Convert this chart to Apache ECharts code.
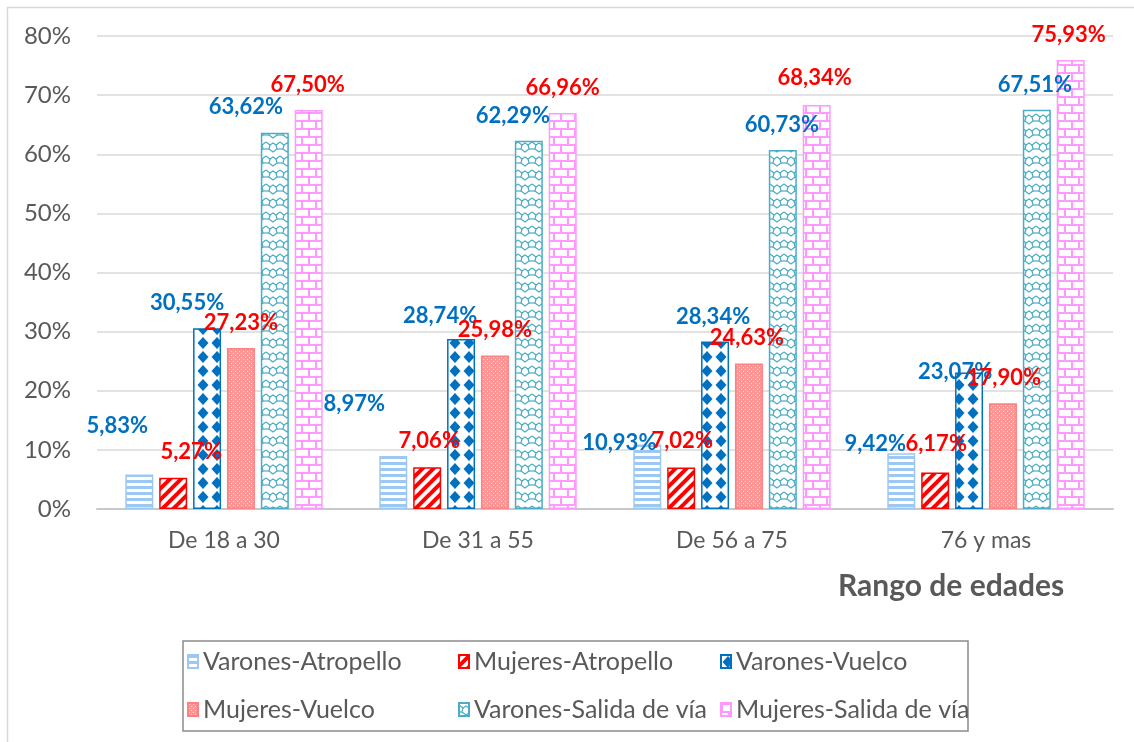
<!DOCTYPE html>
<html>
<head>
<meta charset="utf-8">
<script src="https://cdn.jsdelivr.net/npm/echarts@6/dist/echarts.min.js"></script>
<style>
html,body{margin:0;padding:0;background:#fff;}
#c{width:1134px;height:742px;}
</style>
</head>
<body>
<div id="c"></div>
<script>
// ---- DATA ----
const categories = ['De 18 a 30', 'De 31 a 55', 'De 56 a 75', '76 y mas'];
const seriesNames = ['Varones-Atropello', 'Mujeres-Atropello', 'Varones-Vuelco', 'Mujeres-Vuelco', 'Varones-Salida de vía', 'Mujeres-Salida de vía'];
const varonesAtropello = [5.83, 8.97, 10.93, 9.42];
const mujeresAtropello = [5.27, 7.06, 7.02, 6.17];
const varonesVuelco = [30.55, 28.74, 28.34, 23.07];
const mujeresVuelco = [27.23, 25.98, 24.63, 17.90];
const varonesSalida = [63.62, 62.29, 60.73, 67.51];
const mujeresSalida = [67.50, 66.96, 68.34, 75.93];
const yTicks = [0, 10, 20, 30, 40, 50, 60, 70, 80];
const axisTitle = 'Rango de edades';

// ---- LAYOUT (label nudges, px) ----
const labelOffsets = [
  [[-22,-33],[-39,-36],[-28,15],[-26,7]],
  [[18,-10],[2,-10],[1,-11],[1,-13]],
  [[-20,-9],[-21,-7],[-2,-9],[-14,15]],
  [[0,-9],[0,-9],[-2,-9],[1,-9]],
  [[-29,-10],[-16,-9],[-1,-9],[-2,-9]],
  [[-1,-9],[0,-9],[-2,-11],[-2,-9]]
];

const FONT = 'Lato';
const GREY = '#595959';

function tile(w, h, draw) {
  const c = document.createElement('canvas');
  c.width = w; c.height = h;
  const g = c.getContext('2d');
  g.fillStyle = '#fff'; g.fillRect(0, 0, w, h);
  draw(g, w, h);
  return { image: c, repeat: 'repeat' };
}
const C1 = '#9DC8F3', C2 = '#FF0000', C3 = '#0070C0', C4 = '#FF8080', C5 = '#4BACC6', C6 = '#FF99FF';
const patterns = [
  tile(8, 6, (g) => { g.fillStyle = C1; g.fillRect(0, 0, 8, 3); }),
  tile(11, 11, (g, w, h) => {
    g.strokeStyle = C2; g.lineWidth = 4;
    for (let k = -1; k <= 1; k++) {
      g.beginPath(); g.moveTo(k * w - 2, h + 2); g.lineTo(k * w + w + 2, -2); g.stroke();
    }
  }),
  tile(14, 14, (g) => {
    g.fillStyle = C3;
    g.beginPath(); g.moveTo(7, 1); g.lineTo(12.5, 7); g.lineTo(7, 13); g.lineTo(1.5, 7); g.closePath(); g.fill();
  }),
  tile(4, 4, (g) => {
    g.fillStyle = '#FF9494'; g.fillRect(0, 0, 4, 4);
    g.fillStyle = '#FFD6D6'; g.fillRect(1, 1, 1, 1); g.fillRect(3, 3, 1, 1);
  }),
  tile(14, 14, (g) => {
    g.strokeStyle = C5; g.lineWidth = 1.2;
    g.beginPath();
    g.moveTo(0, 2); g.lineTo(4, 5); g.lineTo(7, 3); g.lineTo(10, 5); g.lineTo(14, 2);
    g.stroke();
    g.beginPath();
    g.moveTo(4, 5); g.lineTo(3, 9); g.lineTo(7, 12); g.lineTo(11, 9); g.lineTo(10, 5);
    g.stroke();
    g.beginPath(); g.moveTo(0, 9); g.lineTo(3, 9); g.stroke();
    g.beginPath(); g.moveTo(11, 9); g.lineTo(14, 9); g.stroke();
  }),
  tile(14, 16, (g) => {
    g.fillStyle = C6;
    g.fillRect(0, 0, 14, 2); g.fillRect(0, 8, 14, 2);
    g.fillRect(0, 0, 2, 8); g.fillRect(7, 8, 2, 8);
  })
];
const borders = [C1, C2, C3, C4, C5, C6];
const labelColors = ['#0070C0', '#FF0000', '#0070C0', '#FF0000', '#0070C0', '#FF0000'];
const allValues = [varonesAtropello, mujeresAtropello, varonesVuelco, mujeresVuelco, varonesSalida, mujeresSalida];

const series = allValues.map((vals, si) => ({
  name: seriesNames[si],
  type: 'bar',
  barWidth: 28,
  barGap: '21%',
  itemStyle: { color: patterns[si], borderColor: borders[si], borderWidth: 1.5 },
  label: {
    show: true, position: 'top', distance: 5,
    color: labelColors[si], fontFamily: FONT, fontWeight: 'bold', fontSize: 22,
    formatter: (p) => p.value.toFixed(2).replace('.', ',') + '%'
  },
  data: vals.map((v, i) => ({ value: v, label: { offset: labelOffsets[si][i] } }))
}));

const legendPos = [[187, 649], [458, 649], [720, 649], [187, 697], [458, 697], [720, 697]];
const legends = seriesNames.map((n, i) => ({
  data: [n], left: legendPos[i][0], top: legendPos[i][1],
  icon: 'rect', itemWidth: 10, itemHeight: 13, itemGap: 0,
  textStyle: { color: GREY, fontFamily: FONT, fontSize: 25, padding: [0, 0, 0, 0] },
  selectedMode: false, padding: 0
}));

const chart = echarts.init(document.getElementById('c'), null, { renderer: 'canvas' });
chart.setOption({
  animation: false,
  backgroundColor: '#fff',
  grid: { left: 97, right: 21, top: 36, bottom: 233, containLabel: false },
  legend: legends,
  xAxis: {
    type: 'category', data: categories,
    axisTick: { show: false },
    axisLine: { lineStyle: { color: '#c8c8c8', width: 2 } },
    axisLabel: { color: GREY, fontFamily: FONT, fontSize: 23, margin: 20 }
  },
  yAxis: {
    type: 'value', min: yTicks[0], max: yTicks[yTicks.length - 1], interval: 10,
    axisLine: { show: false }, axisTick: { show: false },
    splitLine: { lineStyle: { color: '#d9d9d9', width: 1.5 } },
    axisLabel: { color: GREY, fontFamily: FONT, fontSize: 24, margin: 26, formatter: '{value}%' }
  },
  graphic: [
    { type: 'line', shape: { x1: 7, y1: 7.5, x2: 1134, y2: 7.5 }, style: { stroke: '#d9d9d9', lineWidth: 1.5 }, silent: true },
    { type: 'line', shape: { x1: 7.5, y1: 7, x2: 7.5, y2: 742 }, style: { stroke: '#d9d9d9', lineWidth: 1.5 }, silent: true },
    { type: 'rect', shape: { x: 183, y: 641, width: 785, height: 90 }, style: { fill: 'none', stroke: '#8c8c8c', lineWidth: 1.5 }, silent: true },
    { type: 'text', left: 838, top: 571, style: { text: axisTitle, fill: GREY, font: 'bold 30px Lato' }, silent: true }
  ],
  series: series
});
</script>
</body>
</html>
